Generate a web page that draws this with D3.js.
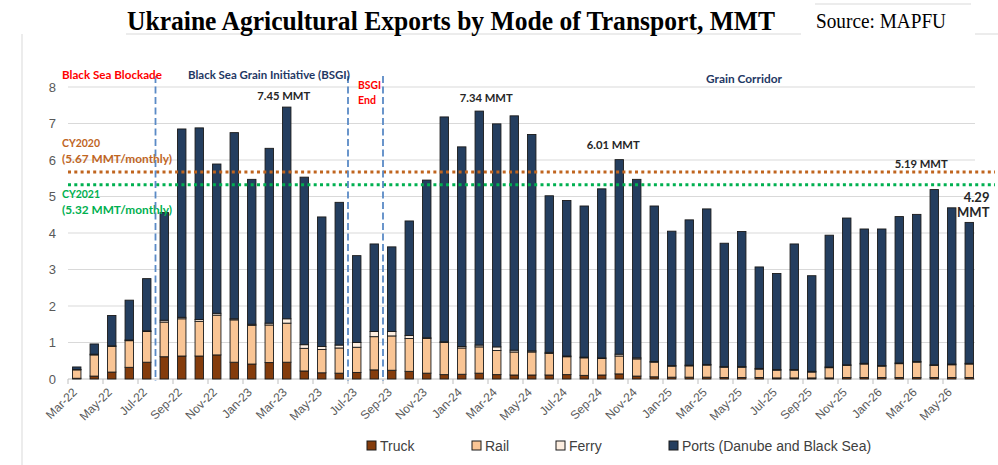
<!DOCTYPE html>
<html>
<head>
<meta charset="utf-8">
<script src="https://cdn.jsdelivr.net/npm/d3@7"></script>
<style>
  body { margin: 0; background: #fff; }
  text { font-family: "Liberation Sans", Arial, sans-serif; }
  text.note { font-family: Lato, "Liberation Sans", Arial, sans-serif; font-weight: bold; }
</style>
</head>
<body>
<svg id="chart" width="998" height="465"></svg>
<script>
// Monthly exports, MMT
const months = [
  "Mar-22","Apr-22","May-22","Jun-22","Jul-22","Aug-22","Sep-22","Oct-22","Nov-22","Dec-22",
  "Jan-23","Feb-23","Mar-23","Apr-23","May-23","Jun-23","Jul-23","Aug-23","Sep-23","Oct-23","Nov-23","Dec-23",
  "Jan-24","Feb-24","Mar-24","Apr-24","May-24","Jun-24","Jul-24","Aug-24","Sep-24","Oct-24","Nov-24","Dec-24",
  "Jan-25","Feb-25","Mar-25","Apr-25","May-25","Jun-25","Jul-25","Aug-25","Sep-25","Oct-25","Nov-25","Dec-25",
  "Jan-26","Feb-26","Mar-26","Apr-26","May-26","Jun-26"
];
const truck = [
  0.02,0.08,0.19,0.32,0.46,0.61,0.63,0.63,0.66,0.46,
  0.41,0.45,0.46,0.22,0.17,0.16,0.18,0.25,0.24,0.21,0.16,0.12,
  0.13,0.16,0.12,0.11,0.11,0.11,0.12,0.10,0.11,0.14,0.08,0.06,
  0.05,0.05,0.05,0.04,0.04,0.04,0.03,0.03,0.03,0.03,0.04,0.04,
  0.04,0.04,0.04,0.04,0.04,0.04
];
const rail = [
  0.23,0.58,0.70,0.73,0.84,0.95,1.02,0.95,1.09,1.16,
  1.06,1.03,1.07,0.62,0.64,0.69,0.69,0.91,0.94,0.90,0.95,0.88,
  0.72,0.72,0.66,0.63,0.63,0.59,0.49,0.48,0.45,0.49,0.47,0.40,
  0.30,0.31,0.33,0.28,0.28,0.23,0.21,0.21,0.16,0.28,0.33,0.37,
  0.31,0.38,0.42,0.33,0.35,0.37
];
const ferry = [
  0.01,0.02,0.02,0.02,0.02,0.05,0.04,0.05,0.05,0.03,
  0.03,0.05,0.12,0.10,0.08,0.08,0.13,0.14,0.12,0.08,0.02,0.02,
  0.04,0.05,0.10,0.05,0.03,0.03,0.02,0.02,0.02,0.05,0.03,0.02,
  0.02,0.02,0.02,0.02,0.02,0.02,0.02,0.02,0.02,0.02,0.02,0.02,
  0.02,0.02,0.02,0.02,0.02,0.02
];
const ports = [
  0.07,0.28,0.83,1.09,1.43,2.95,5.16,5.25,4.09,5.10,
  3.97,4.79,5.80,4.59,3.55,3.91,2.38,2.40,2.32,3.14,4.32,6.16,
  5.47,6.41,6.11,6.42,5.93,4.29,4.26,4.14,4.63,5.33,4.89,4.26,
  3.68,3.98,4.26,3.38,3.70,2.78,2.63,3.44,2.62,3.61,4.02,3.68,
  3.74,4.01,4.03,4.80,4.28,3.86
];

const seriesKeys = ["truck", "rail", "ferry", "ports"];
const seriesNames = ["Truck", "Rail", "Ferry", "Ports (Danube and Black Sea)"];
const seriesColors = ["#843c0c", "#f9c595", "#fdeee0", "#243e5f"];

const yTicks = [0, 1, 2, 3, 4, 5, 6, 7, 8];

// CY averages (dotted lines)
const refNames = ["CY2020", "CY2021"];
const refValues = [5.67, 5.32];
const refColors = ["#c0651f", "#00b050"];

// Phase dividers sit just before these months
const phaseBreaks = ["Aug-22", "Jul-23", "Sep-23"];

// Peak labels
const peakMonths = ["Mar-23", "Feb-24", "Oct-24", "Apr-26"];
const peakLabels = ["7.45 MMT", "7.34 MMT", "6.01 MMT", "5.19 MMT"];

const svg = d3.select("#chart");
const W = 998, H = 465;
const plotL = 68, plotR = 978, plotT = 87, plotB = 379;

const rows = months.map((m, i) => ({
  month: m, truck: truck[i], rail: rail[i], ferry: ferry[i], ports: ports[i]
}));
const totals = rows.map(r => r.truck + r.rail + r.ferry + r.ports);

const x = d3.scaleBand().domain(months).range([plotL, plotR])
  .paddingInner(0.52).paddingOuter(0.26);
const y = d3.scaleLinear().domain([0, 8]).range([plotB, plotT]);
const color = d3.scaleOrdinal().domain(seriesKeys).range(seriesColors);
const cx = m => x(m) + x.bandwidth() / 2;
const boundary = m => x(m) - x.step() * x.paddingInner() / 2;

// shrink a text's font so its natural width matches the reference width
function fitWidth(sel, target) {
  const w = sel.node().getComputedTextLength();
  const fs = parseFloat(sel.style("font-size"));
  if (w > 0) sel.style("font-size", (fs * target / w).toFixed(2) + "px");
  return sel;
}

// frame lines
const frame = svg.append("g").attr("stroke", "#d9d9d9").attr("stroke-width", 1);
frame.append("line").attr("x1", 22).attr("x2", 22).attr("y1", 34).attr("y2", H);
frame.append("line").attr("x1", 126).attr("x2", 801).attr("y1", 34).attr("y2", 34);
frame.append("line").attr("x1", 975).attr("x2", W).attr("y1", 34).attr("y2", 34);
frame.append("line").attr("x1", 815).attr("x2", 971).attr("y1", 4).attr("y2", 4);

// title + source
svg.append("text")
  .attr("x", 127).attr("y", 30)
  .attr("textLength", 648).attr("lengthAdjust", "spacingAndGlyphs")
  .style("font-family", "'Liberation Serif', 'Times New Roman', serif")
  .style("font-weight", "bold").style("font-size", "27px").style("fill", "#000")
  .text("Ukraine Agricultural Exports by Mode of Transport, MMT");
svg.append("text")
  .attr("x", 816).attr("y", 28)
  .attr("textLength", 130).attr("lengthAdjust", "spacingAndGlyphs")
  .style("font-family", "'Liberation Serif', 'Times New Roman', serif")
  .style("font-size", "21px").style("fill", "#000")
  .text("Source: MAPFU");

// gridlines + y labels
svg.append("g").selectAll("line").data(yTicks.filter(d => d > 0)).join("line")
  .attr("x1", plotL).attr("x2", 975)
  .attr("y1", d => y(d)).attr("y2", d => y(d))
  .attr("stroke", "#d9d9d9").attr("stroke-width", 1);

const yAxis = svg.append("g")
  .attr("transform", `translate(${plotL},0)`)
  .call(d3.axisLeft(y).tickValues(yTicks).tickSize(0).tickPadding(12));
yAxis.select(".domain").remove();
yAxis.selectAll("text").style("font-size", "13px").style("fill", "#595959")
  .style("font-family", "'Liberation Sans', Arial, sans-serif");

// x axis
svg.append("line").attr("x1", plotL).attr("x2", 975)
  .attr("y1", plotB).attr("y2", plotB)
  .attr("stroke", "#bfbfbf").attr("stroke-width", 1);
const labelled = months.filter((m, i) => i % 2 === 0);
svg.append("g").selectAll("line").data(labelled).join("line")
  .attr("x1", d => boundary(d)).attr("x2", d => boundary(d))
  .attr("y1", plotB).attr("y2", plotB + 5)
  .attr("stroke", "#bfbfbf");
svg.append("g").selectAll("text").data(labelled).join("text")
  .attr("transform", d => `translate(${cx(d) - 2},${plotB + 11}) rotate(-45)`)
  .attr("text-anchor", "end").attr("dy", "0.35em")
  .style("font-size", "12px").style("fill", "#595959")
  .text(d => d);

// stacked bars
const stacked = d3.stack().keys(seriesKeys)(rows);
svg.append("g").selectAll("g").data(stacked).join("g")
  .attr("fill", d => color(d.key))
  .selectAll("rect").data(d => d).join("rect")
  .attr("x", d => x(d.data.month))
  .attr("width", x.bandwidth())
  .attr("y", d => y(d[1]))
  .attr("height", d => y(d[0]) - y(d[1]))
  .attr("stroke", "#1a1a1a").attr("stroke-width", 0.9);

// CY reference lines
refValues.forEach((v, i) => {
  svg.append("line")
    .attr("x1", plotL).attr("x2", 995)
    .attr("y1", y(v)).attr("y2", y(v))
    .attr("stroke", refColors[i]).attr("stroke-width", 3)
    .attr("stroke-dasharray", "3,3.3");
});
const boldText = (txt, xx, yy, col, len) => fitWidth(svg.append("text")
  .attr("class", "note")
  .attr("x", xx).attr("y", yy)
  .style("font-size", "13px").style("fill", col)
  .text(txt), len);
boldText(refNames[0], 62, 147, refColors[0], 38);
boldText(`(${refValues[0]} MMT/monthly)`, 62, 163, refColors[0], 110);
boldText(refNames[1], 62, 198, refColors[1], 38);
boldText(`(${refValues[1]} MMT/monthly)`, 62, 214, refColors[1], 110);

// phase dividers
svg.append("g").selectAll("line").data(phaseBreaks).join("line")
  .attr("x1", d => boundary(d)).attr("x2", d => boundary(d))
  .attr("y1", 76).attr("y2", plotB + 2)
  .attr("stroke", "#5a8ac6").attr("stroke-width", 1.8)
  .attr("stroke-dasharray", "7,3.5");

// phase labels
boldText("Black Sea Blockade", 62, 79, "#ff0000", 100);
boldText("Black Sea Grain Initiative (BSGI)", 188, 79, "#1f3864", 162);
boldText("BSGI", 358, 89, "#ff0000", 23);
boldText("End", 358, 104, "#ff0000", 18);
boldText("Grain Corridor", 706, 83, "#1f3864", 76);

// peak labels
const peakDx = [-3, 7, -6, -13];
const peakDy = [-7, -9, -11, -22];
peakMonths.forEach((m, i) => {
  const idx = months.indexOf(m);
  fitWidth(svg.append("text")
    .attr("class", "note")
    .attr("x", cx(m) + peakDx[i]).attr("y", y(totals[idx]) + peakDy[i])
    .attr("text-anchor", "middle")
    .style("font-size", "13px").style("fill", "#262626")
    .text(peakLabels[i]), 53);
});
// last month label, two lines to the right of the bar
const lastM = months[months.length - 1];
const lastT = totals[totals.length - 1];
const lx = x(lastM) + x.bandwidth() + 16;
svg.append("text").attr("class", "note")
  .attr("x", lx).attr("y", y(lastT) - 20).attr("text-anchor", "end")
  .style("font-size", "13px").style("fill", "#262626")
  .text(lastT.toFixed(2));
svg.append("text").attr("class", "note")
  .attr("x", lx).attr("y", y(lastT) - 5).attr("text-anchor", "end")
  .style("font-size", "13px").style("fill", "#262626")
  .text("MMT");

// legend
const legendX = [367, 472, 556, 669];
const legend = svg.append("g").selectAll("g").data(seriesKeys).join("g")
  .attr("transform", (d, i) => `translate(${legendX[i]},441)`);
legend.append("rect").attr("width", 9).attr("height", 9)
  .attr("fill", d => color(d)).attr("stroke", "#1a1a1a").attr("stroke-width", 1);
legend.append("text").attr("x", 13).attr("y", 10)
  .style("font-size", "14px").style("fill", "#404040")
  .text((d, i) => seriesNames[i]);
</script>
</body>
</html>
